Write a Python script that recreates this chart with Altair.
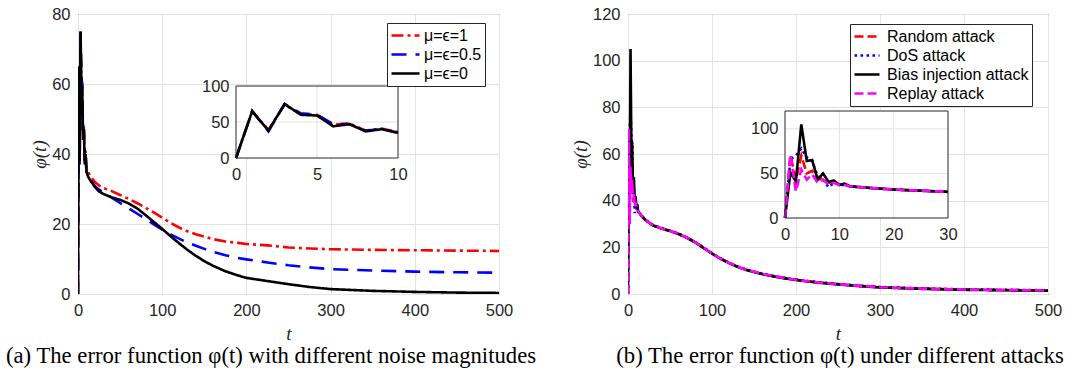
import altair as alt
import pandas as pd

# ---------------- Panel (a): noise magnitudes ----------------
T_A = [0, 1, 2, 3, 4, 5, 6, 7, 8, 9, 10, 12, 15, 20, 25, 30, 40, 50, 60, 70, 80, 90,
       100, 110, 120, 130, 140, 150, 160, 175, 190, 200, 225, 250, 275, 300, 350, 400, 450, 500]
A_MU1 = [0, 65, 39, 74, 61, 60, 46, 48, 38, 41, 36, 34.8, 33.6, 32.0, 31.0, 30.3, 29.4, 28.3,
         27.2, 26.0, 24.7, 23.3, 21.8, 20.3, 19.0, 17.9, 17.1, 16.4, 15.7, 15.0, 14.6, 14.3,
         13.9, 13.3, 13.0, 12.8, 12.6, 12.5, 12.4, 12.3]
A_MU05 = [0, 65, 37, 75, 62, 60, 47, 47, 38, 40, 35, 34.0, 32.6, 30.8, 29.8, 29.2, 27.5, 26.0,
          24.5, 23.0, 21.5, 19.9, 18.4, 17.0, 15.8, 14.7, 13.8, 12.9, 12.1, 11.1, 10.3, 9.9,
          9.0, 8.2, 7.6, 7.1, 6.7, 6.4, 6.2, 6.1]
A_MU0 = [0, 65, 38, 75, 60, 59, 44, 47, 37, 40, 35, 33.5, 32.3, 30.6, 29.3, 28.6, 27.6, 26.9,
         25.9, 24.5, 22.6, 20.6, 18.6, 16.5, 14.5, 12.6, 10.9, 9.4, 8.1, 6.5, 5.3, 4.6,
         3.7, 2.8, 2.0, 1.4, 0.9, 0.6, 0.4, 0.3]
SERIES_A = ["μ=ϵ=1", "μ=ϵ=0.5", "μ=ϵ=0"]
COLORS_A = ["#ff0000", "#0000ff", "#000000"]
DASHES_A = [[12, 4, 3, 4], [15, 9], [1, 0]]

# ---------------- Panel (b): attacks ----------------
T_B = [0, 1, 2, 3, 4, 5, 6, 7, 8, 9, 10, 11, 12, 14, 16, 18, 20, 22, 24, 26, 28, 30, 35, 40,
       50, 60, 70, 80, 90, 100, 110, 120, 130, 140, 150, 160, 175, 190, 200, 225, 250, 275,
       300, 350, 400, 450, 500]
B_RANDOM = [0, 70, 43, 70, 50, 53, 43, 45, 39.5, 40.6, 37.6, 37.5, 35.5, 34.4, 33.5, 32.8, 32.0,
            31.4, 30.9, 30.4, 29.9, 29.4, 28.8, 28.1, 27.1, 25.8, 24.2, 22.2, 19.8, 17.4, 15.2,
            13.4, 11.8, 10.5, 9.5, 8.6, 7.5, 6.6, 6.1, 5.0, 4.2, 3.5, 2.9, 2.3, 1.9, 1.7, 1.5]
B_DOS = [0, 66, 70, 78, 68, 64, 47, 43, 34.6, 39.5, 37, 37.2, 35.6, 34.5, 33.6, 32.9, 32.1,
         31.5, 31.0, 30.5, 30.0, 29.5, 28.9, 28.2, 27.2, 25.9, 24.3, 22.3, 19.9, 17.5, 15.3,
         13.5, 11.9, 10.6, 9.6, 8.7, 7.6, 6.7, 6.2, 5.1, 4.3, 3.6, 3.0, 2.4, 2.0, 1.8, 1.6]
B_BIAS = [0, 51, 41, 105, 64, 65, 43, 50, 40.6, 42, 37, 38.5, 35.2, 34.6, 33.5, 32.7, 31.9,
          31.3, 30.8, 30.3, 29.8, 29.3, 28.7, 28.0, 27.0, 25.7, 24.1, 22.1, 19.7, 17.3, 15.1,
          13.3, 11.7, 10.4, 9.4, 8.5, 7.4, 6.5, 6.0, 4.9, 4.1, 3.4, 2.8, 2.2, 1.8, 1.6, 1.4]
B_REPLAY = [0, 71, 30, 54.5, 43, 49, 39.5, 43, 37.6, 39.5, 37, 37.0, 35.5, 34.5, 33.5, 32.8, 32.0,
            31.4, 30.9, 30.4, 29.9, 29.4, 28.8, 28.1, 27.1, 25.8, 24.2, 22.2, 19.8, 17.4, 15.2,
            13.4, 11.8, 10.5, 9.5, 8.6, 7.5, 6.6, 6.1, 5.0, 4.2, 3.5, 2.9, 2.3, 1.9, 1.7, 1.5]
SERIES_B = ["Random attack", "DoS attack", "Bias injection attack", "Replay attack"]
COLORS_B = ["#ff0000", "#0000ff", "#000000", "#ff00ff"]
DASHES_B = [[9, 4], [2.6, 3.4], [1, 0], [9, 4]]

CAPTION_A = "(a) The error function φ(t) with different noise magnitudes"
CAPTION_B = "(b) The error function φ(t) under different attacks"

AXIS_GRAY = "#262626"
GRID = "#e3e3e3"
LW = 2.6


def long_df(t, series_names, columns):
    rows = []
    for name, vals in zip(series_names, columns):
        for tt, v in zip(t, vals):
            rows.append({"t": tt, "phi": v, "series": name})
    return pd.DataFrame(rows)


df_a = long_df(T_A, SERIES_A, [A_MU1, A_MU05, A_MU0])
df_b = long_df(T_B, SERIES_B, [B_RANDOM, B_DOS, B_BIAS, B_REPLAY])


def build_panel(df, series, colors, dashes, W, H, ymax, yvals, tmax_in, ymax_in,
                xvals_in, yvals_in, xgrid_in, ygrid_in, box, legend_xy, caption, cap_dx,
                sym_size, leg_pad, lab_off):
    left, right, top, bottom = box
    legend = alt.Legend(title=None, orient="none", legendX=legend_xy[0], legendY=legend_xy[1],
                        symbolType="stroke", symbolStrokeWidth=LW, symbolSize=sym_size,
                        labelFont="Liberation Sans", labelFontSize=16, labelColor="black",
                        strokeColor=AXIS_GRAY, fillColor="white", padding=leg_pad,
                        rowPadding=0, clipHeight=19, labelOffset=lab_off)
    color = alt.Color("series:N", scale=alt.Scale(domain=series, range=colors), legend=legend)
    dash = alt.StrokeDash("series:N", scale=alt.Scale(domain=series, range=dashes), legend=legend)

    ax_main_x = alt.Axis(values=[0, 100, 200, 300, 400, 500], grid=True, gridColor=GRID,
                         ticks=False, domain=False, labelPadding=8, titlePadding=6,
                         labelFlush=False, orient="bottom")
    ax_main_y = alt.Axis(values=yvals, grid=True, gridColor=GRID, ticks=False, domain=False,
                         labelPadding=8, titlePadding=2, orient="left")
    xm = alt.X("t:Q", scale=alt.Scale(domain=[0, 500], nice=False), axis=ax_main_x, title="t")
    ym = alt.Y("phi:Q", scale=alt.Scale(domain=[0, ymax], nice=False), axis=ax_main_y,
               title="φ(t)")

    main = alt.layer(*[
        alt.Chart(df).transform_filter(alt.FieldEqualPredicate(field="series", equal=s))
        .mark_line(strokeWidth=LW, clip=True)
        .encode(x=xm, y=ym, color=color, strokeDash=dash)
        for s in series
    ])

    xs_in = alt.Scale(domain=[0, tmax_in], range=[left, right], nice=False, zero=False)
    ys_in = alt.Scale(domain=[0, ymax_in], range=[bottom, top], nice=False)
    ax_in_x = alt.Axis(orient="bottom", offset=bottom - H, values=xvals_in, grid=False,
                       ticks=False, domain=False, labelPadding=8, labelFlush=False)
    ax_in_y = alt.Axis(orient="left", offset=-left, values=yvals_in, grid=False,
                       ticks=False, domain=False, labelPadding=7)

    frame_df = pd.DataFrame({"x0": [0], "x1": [tmax_in], "y0": [0], "y1": [ymax_in]})
    frame_enc = dict(x=alt.X("x0:Q", scale=xs_in, axis=ax_in_x, title=None), x2="x1:Q",
                     y=alt.Y("y0:Q", scale=ys_in, axis=ax_in_y, title=None), y2="y1:Q")
    frame_fill = alt.Chart(frame_df).mark_rect(fill="white", strokeWidth=0).encode(**frame_enc)
    frame_line = alt.Chart(frame_df).mark_rect(fillOpacity=0, stroke=AXIS_GRAY,
                                               strokeWidth=1).encode(**frame_enc)

    gx_df = pd.DataFrame({"gx": xgrid_in, "lo": [0] * len(xgrid_in), "hi": [ymax_in] * len(xgrid_in)})
    gy_df = pd.DataFrame({"gy": ygrid_in, "lo": [0] * len(ygrid_in), "hi": [tmax_in] * len(ygrid_in)})
    grid_x = alt.Chart(gx_df).mark_rule(color=GRID, strokeWidth=1).encode(
        x=alt.X("gx:Q", scale=xs_in, axis=ax_in_x, title=None),
        y=alt.Y("lo:Q", scale=ys_in, axis=ax_in_y, title=None), y2="hi:Q")
    grid_y = alt.Chart(gy_df).mark_rule(color=GRID, strokeWidth=1).encode(
        y=alt.Y("gy:Q", scale=ys_in, axis=ax_in_y, title=None),
        x=alt.X("lo:Q", scale=xs_in, axis=ax_in_x, title=None), x2="hi:Q")

    df_in = df[df["t"] <= tmax_in]
    xi = alt.X("t:Q", scale=xs_in, axis=ax_in_x, title=None)
    yi = alt.Y("phi:Q", scale=ys_in, axis=ax_in_y, title=None)
    inset_lines = [
        alt.Chart(df_in).transform_filter(alt.FieldEqualPredicate(field="series", equal=s))
        .mark_line(strokeWidth=LW)
        .encode(x=xi, y=yi, color=color, strokeDash=dash)
        for s in series
    ]
    inset = alt.layer(frame_fill, grid_x, grid_y, *inset_lines, frame_line)

    return alt.layer(main, inset).resolve_scale(x="independent", y="independent").properties(
        width=W, height=H,
        title=alt.TitleParams(text=caption, orient="bottom", anchor="middle",
                              font="Liberation Serif", fontSize=22.7, fontWeight="normal",
                              color="black", dx=cap_dx, offset=1))


panel_a = build_panel(df_a, SERIES_A, COLORS_A, DASHES_A, 421, 280, 80, [0, 20, 40, 60, 80],
                      10, 100, [0, 5, 10], [0, 50, 100], [5], [50],
                      (158, 320, 72, 144), (309, 9), CAPTION_A, -17.5, 784, 3, 3)
panel_b = build_panel(df_b, SERIES_B, COLORS_B, DASHES_B, 420, 280, 120,
                      [0, 20, 40, 60, 80, 100, 120],
                      30, 120, [0, 10, 20, 30], [0, 50, 100], [10, 20], [50, 100],
                      (157, 320, 97, 204), (222, 10), CAPTION_B, 2, 625, 3, 6)

chart = alt.hconcat(panel_a, panel_b, spacing=129, bounds="flush").resolve_scale(
    color="independent", strokeDash="independent"
).configure_view(stroke=AXIS_GRAY, strokeWidth=1).configure_axis(
    labelFont="Liberation Sans", labelFontSize=16.5, labelColor=AXIS_GRAY,
    titleFont="Liberation Serif", titleFontSize=19, titleFontStyle="italic",
    titleFontWeight="normal", titleColor=AXIS_GRAY
).properties(padding={"left": 5, "top": 5, "right": 0, "bottom": 0}, background="white")

chart.save("out.html", embed_options={"renderer": "svg", "actions": False})
